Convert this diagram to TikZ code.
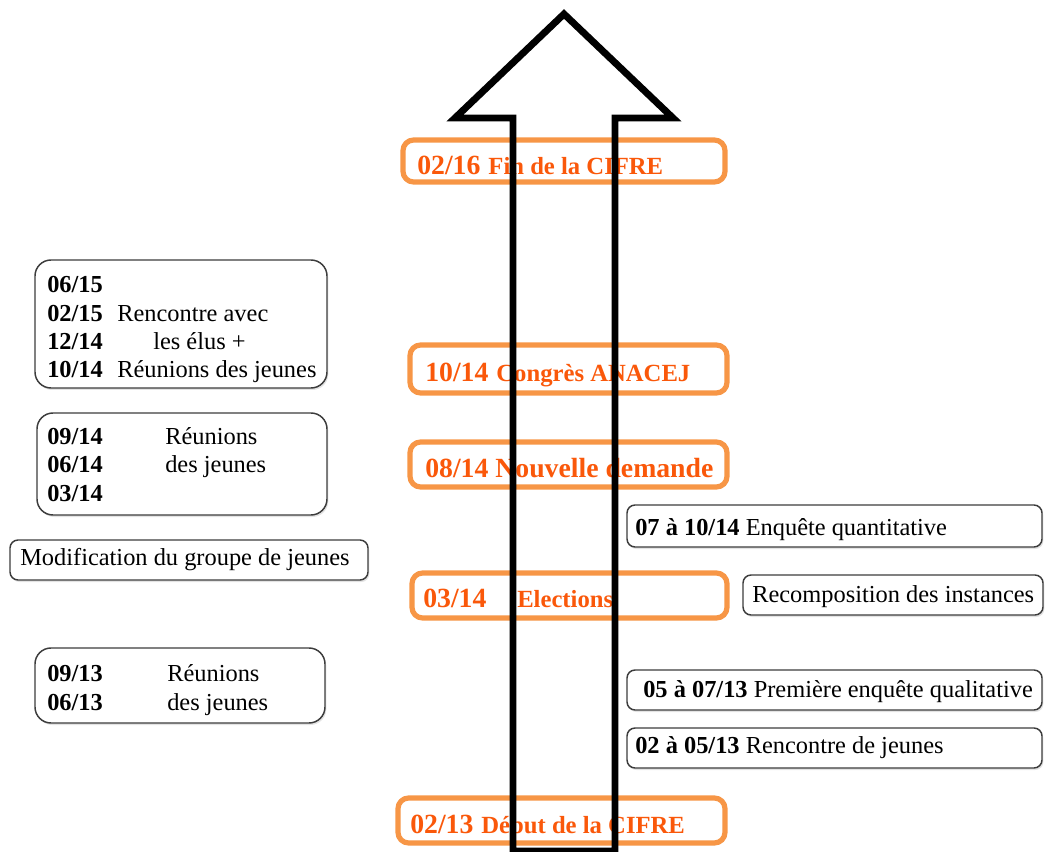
\documentclass[tikz,border=0pt]{standalone}
\usepackage{fontspec}
\setmainfont{Liberation Serif}
\usetikzlibrary{shadows,fit}
\definecolor{oline}{RGB}{247,150,70}
\definecolor{otext}{RGB}{250,88,10}
\definecolor{bline}{RGB}{60,60,60}
\newcommand{\rsz}{\fontsize{18.3}{22}\selectfont}
\newcommand{\osz}{\fontsize{18.5}{22}\selectfont\bfseries}
\newcommand{\obz}{\fontsize{20.8}{25}\selectfont\bfseries}
\tikzset{
  shad/.style={drop shadow={shadow xshift=1pt, shadow yshift=-1.5pt, opacity=0.22}},
  obox/.style={draw=oline, line width=3.9pt, rounded corners=8pt, fill=white, inner sep=0pt, shad},
  bboxl/.style={draw=bline, line width=1.1pt, rounded corners=12pt, fill=white, inner sep=0pt, shad},
  bboxs/.style={draw=bline, line width=1.1pt, rounded corners=6pt, fill=white, inner sep=0pt, shad},
  txt/.style={anchor=base west, inner sep=0pt, font=\rsz},
  otxt/.style={anchor=base west, inner sep=0pt, text=otext},
  bigarrow/.style={draw=black, line width=5.2pt, line join=miter}
}
\begin{document}
\begin{tikzpicture}[x=0.75pt,y=-0.75pt]
\useasboundingbox (0,0) rectangle (1047,852);

% orange boxes
\node[obox, fit={(403,140) (725,182)}] (o1) {};
\node[obox, fit={(410,345) (727,393)}] (o2) {};
\node[obox, fit={(410,442) (727,487)}] (o3) {};
\node[obox, fit={(412,573) (727,618)}] (o4) {};
\node[obox, fit={(398,798) (725,843)}] (o5) {};

% orange texts
\node[otxt] (t1) at (417,175) {{\obz 02/16}\hspace{6pt}{\osz Fin de la CIFRE}};
\node[otxt] (t2) at (425,382) {{\obz 10/14}\hspace{6pt}{\osz Congrès ANACEJ}};
\node[otxt] (t3) at (425,478) {{\obz 08/14 Nouvelle demande}};
\node[otxt] (t4a) at (423,607) {{\obz 03/14}};
\node[otxt] (t4b) at (517,607) {{\osz Elections}};
\node[otxt] (t5) at (410,833) {{\obz 02/13}\hspace{6pt}{\osz Début de la CIFRE}};

% arrow
\draw[bigarrow] (513,851) -- (513,118) -- (455,118) -- (564,14) -- (673,118) -- (615,118) -- (615,851) -- cycle;

% black boxes
\node[bboxl, fit={(35,260) (327,388)}] (ba) {};
\node[bboxl, fit={(37,413) (327,515)}] (bb) {};
\node[bboxs, fit={(10,540) (368,580)}] (bc) {};
\node[bboxl, fit={(35,648) (325,723)}] (bd) {};
\node[bboxs, fit={(627,505) (1042,547)}] (be) {};
\node[bboxs, fit={(743,575) (1043,615)}] (bf) {};
\node[bboxs, fit={(627,670) (1042,710)}] (bg) {};
\node[bboxs, fit={(627,728) (1042,768)}] (bh) {};

% texts box A
\node[txt] (a1) at (47,293) {\textbf{06/15}};
\node[txt] (a2) at (47,322) {\textbf{02/15}};
\node[txt] (a2b) at (117,322) {Rencontre avec};
\node[txt] (a3) at (47,350) {\textbf{12/14}};
\node[txt] (a3b) at (153,350) {les élus +};
\node[txt] (a4) at (47,378) {\textbf{10/14}};
\node[txt] (a4b) at (117,378) {Réunions des jeunes};

% texts box B
\node[txt] (b1) at (47,445) {\textbf{09/14}};
\node[txt] (b1b) at (165,445) {Réunions};
\node[txt] (b2) at (47,473) {\textbf{06/14}};
\node[txt] (b2b) at (165,473) {des jeunes};
\node[txt] (b3) at (47,502) {\textbf{03/14}};

% box C
\node[txt] (c1) at (20,565) {Modification du groupe de jeunes};

% box D
\node[txt] (d1) at (47,681) {\textbf{09/13}};
\node[txt] (d1b) at (167,681) {Réunions};
\node[txt] (d2) at (47,710) {\textbf{06/13}};
\node[txt] (d2b) at (167,710) {des jeunes};

% right boxes
\node[txt] (e1) at (635,535) {\textbf{07 à 10/14} Enquête quantitative};
\node[txt] (f1) at (752,602) {Recomposition des instances};
\node[txt] (g1) at (643,697) {\textbf{05 à 07/13} Première enquête qualitative};
\node[txt] (h1) at (635,753) {\textbf{02 à 05/13} Rencontre de jeunes};
\end{tikzpicture}
\end{document}
